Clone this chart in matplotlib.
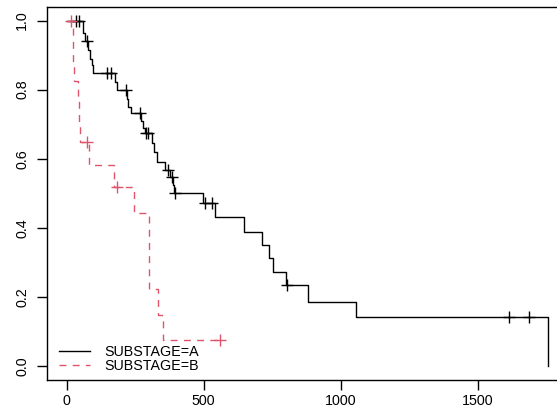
import numpy as np
import matplotlib
matplotlib.use("Agg")
import matplotlib.pyplot as plt

# ---- data ----
times_A = [61, 67, 77, 85, 91, 97, 176, 182, 219, 225, 235, 270, 278, 286,
           310, 318, 328, 359, 377, 389, 393, 499, 541, 648, 714, 738, 754,
           800, 882, 1056, 1758]
surv_A = [0.963, 0.94, 0.915, 0.89, 0.871, 0.849, 0.822, 0.799, 0.772, 0.75,
          0.731, 0.708, 0.69, 0.673, 0.645, 0.62, 0.591, 0.567, 0.548, 0.525,
          0.502, 0.471, 0.43, 0.389, 0.349, 0.312, 0.273, 0.234, 0.186, 0.143,
          0.0]
cens_A = [34, 45, 73, 146, 160, 217, 268, 290, 296, 371, 383, 395, 505, 529,
          803, 1615, 1688]

times_B = [22, 24, 26, 40, 44, 49, 83, 173, 247, 302, 334, 353]
surv_B = [0.941, 0.882, 0.824, 0.765, 0.706, 0.647, 0.582, 0.518, 0.444,
          0.222, 0.148, 0.074]
cens_B = [16, 73, 182, 560]

labels = ["SUBSTAGE=A", "SUBSTAGE=B"]
x_ticks = [0, 500, 1000, 1500]
y_ticks = [0.0, 0.2, 0.4, 0.6, 0.8, 1.0]

col_A = "black"
col_B = "#DF536B"

plt.rcParams["font.family"] = ["Liberation Sans", "DejaVu Sans"]

fig = plt.figure(figsize=(5.57, 4.18), dpi=100)
ax = fig.add_axes([0.0851, 0.0914, 0.9341, 0.8926])


def km_xy(times, surv, end=None):
    x = [0.0] + list(times)
    y = [1.0] + list(surv)
    if end is not None and end > x[-1]:
        x.append(end)
        y.append(y[-1])
    return np.array(x, float), np.array(y, float)


def surv_at(times, surv, t):
    x = np.array([0.0] + list(times))
    y = np.array([1.0] + list(surv))
    idx = np.searchsorted(x, np.asarray(t, float), side="right") - 1
    return y[idx]


xa, ya = km_xy(times_A, surv_A)
xb, yb = km_xy(times_B, surv_B, end=max(cens_B))

ls_B = (0, (5, 4.5))
lA, = ax.step(xa, ya, where="post", color=col_A, lw=1.0)
lB, = ax.step(xb, yb, where="post", color=col_B, lw=1.0, linestyle=ls_B)

ax.plot(cens_A, surv_at(times_A, surv_A, cens_A), linestyle="none",
        marker="+", markersize=8, markeredgewidth=1.0, color=col_A)
ax.plot(cens_B, surv_at(times_B, surv_B, cens_B), linestyle="none",
        marker="+", markersize=8, markeredgewidth=1.0, color=col_B)

ax.set_xlim(-70.3, 1828.3)
ax.set_ylim(-0.04, 1.04)
ax.set_xticks(x_ticks)
ax.set_xticklabels([str(v) for v in x_ticks])
ax.set_yticks(y_ticks)
ax.set_yticklabels([f"{v:.1f}" for v in y_ticks], rotation=90, va="center")

ax.tick_params(axis="both", direction="out", length=7, width=1.0,
               labelsize=10.3, colors="black")
ax.tick_params(axis="x", pad=3.5)
ax.tick_params(axis="y", pad=6)
for s in ax.spines.values():
    s.set_linewidth(1.0)
    s.set_color("black")

leg = ax.legend([lA, lB], labels, loc="lower left",
                bbox_to_anchor=(0.004, -0.009), frameon=False, fontsize=10.3,
                handlelength=2.1, handletextpad=1.0, labelspacing=0.0,
                borderaxespad=0.3)

fig.savefig("out.png", dpi=100)
